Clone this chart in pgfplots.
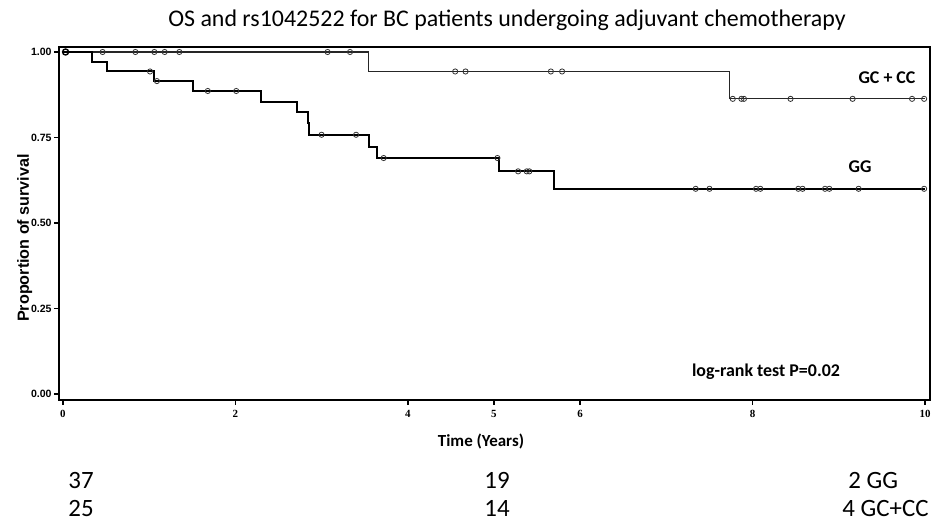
\documentclass[border=0pt]{standalone}
\usepackage{pgfplots}
\pgfplotsset{compat=1.18}
\usepackage{fontspec}
\setmainfont{Carlito}
\newfontfamily\arialf{Liberation Sans}
\newfontfamily\timesf{Liberation Serif}
\begin{document}
\begin{tikzpicture}
\path[use as bounding box] (0,0) rectangle (470bp,260.5bp);
\begin{axis}[
  at={(29.5bp,60.5bp)}, anchor=south west,
  width=435.5bp, height=176.5bp, scale only axis,
  xmin=-0.046, xmax=10.058, ymin=-0.0175, ymax=1.0146,
  xtick={0,2,4,5,6,8,10},
  ytick={0,0.25,0.5,0.75,1},
  yticklabels={0.00,0.25,0.50,0.75,1.00},
  tick align=outside, tick pos=left,
  major tick length=2.5bp,
  axis line style={line width=0.8pt},
  every tick/.style={black, line width=0.8pt},
  /pgf/number format/assume math mode=true,
  xticklabel style={font=\timesf\bfseries\fontsize{5.5}{6}\selectfont, inner sep=1bp, yshift=-1.5bp},
  yticklabel style={font=\arialf\bfseries\fontsize{5.3}{6}\selectfont, inner sep=1bp},
  clip=false,
]
% GC+CC curve
\addplot[const plot, black!85, line width=0.6bp] coordinates {
 (0,1) (3.54,0.943) (7.73,0.863) (10.0,0.863)};
% GG curve
\addplot[const plot, black, line width=1.0bp] coordinates {
 (0,1) (0.34,0.972) (0.51,0.943) (1.06,0.915) (1.51,0.886) (2.30,0.855)
 (2.71,0.824) (2.84,0.791) (2.85,0.758) (3.55,0.723) (3.64,0.690)
 (5.06,0.651) (5.70,0.600) (10.0,0.600)};
% censor marks GC+CC
\addplot[only marks, mark=o, mark size=1.3bp, mark options={black!80, line width=0.4bp, fill=white}] coordinates {
 (0.46,1) (0.84,1) (1.06,1) (1.18,1) (1.35,1) (3.07,1) (3.33,1)
 (4.55,0.943) (4.67,0.943) (5.66,0.943) (5.79,0.943)
 (7.77,0.863) (7.87,0.863) (7.90,0.863) (8.44,0.863) (9.16,0.863) (9.85,0.863) (9.99,0.863)};
\addplot[only marks, mark=o, mark size=1.5bp, mark options={black, line width=0.7bp, fill=white}] coordinates {(0.03,1)};
% censor marks GG
\addplot[only marks, mark=o, mark size=1.3bp, mark options={black!80, line width=0.4bp, fill=white}] coordinates {
 (1.01,0.943) (1.09,0.915) (1.68,0.886) (2.01,0.886) (3.00,0.758) (3.40,0.758) (3.72,0.690)
 (5.04,0.690) (5.28,0.651) (5.38,0.651) (5.41,0.651)
 (7.34,0.600) (7.50,0.600) (8.04,0.600) (8.09,0.600) (8.53,0.600) (8.58,0.600)
 (8.84,0.600) (8.89,0.600) (9.23,0.600) (9.99,0.600)};
\end{axis}
% title
\node at (253.5bp,250.5bp) {\fontsize{12}{14}\selectfont OS and rs1042522 for BC patients undergoing adjuvant chemotherapy};
% y label
\node[rotate=90] at (12.3bp,141.5bp) {\arialf\bfseries\fontsize{8.1}{9}\selectfont Proportion of survival};
% x label
\node at (240.5bp,40bp) {\bfseries\fontsize{8.5}{10}\selectfont Time (Years)};
% in-plot labels
\node at (443.5bp,221.5bp) {\bfseries\fontsize{9}{10}\selectfont GC + CC};
\node at (430bp,177bp) {\bfseries\fontsize{9}{10}\selectfont GG};
\node at (383bp,74.5bp) {\bfseries\fontsize{9}{10}\selectfont log-rank test P=0.02};
% numbers at risk
\node[anchor=base west, inner sep=0pt] at (34bp,16.5bp) {\fontsize{12.5}{14}\selectfont 37};
\node[anchor=base west, inner sep=0pt] at (242bp,16.5bp) {\fontsize{12.5}{14}\selectfont 19};
\node[anchor=base west, inner sep=0pt] at (424bp,16.5bp) {\fontsize{12.5}{14}\selectfont 2 GG};
\node[anchor=base west, inner sep=0pt] at (34bp,2.5bp) {\fontsize{12.5}{14}\selectfont 25};
\node[anchor=base west, inner sep=0pt] at (242bp,2.5bp) {\fontsize{12.5}{14}\selectfont 14};
\node[anchor=base west, inner sep=0pt] at (421bp,2.5bp) {\fontsize{12.5}{14}\selectfont 4 GC+CC};
\end{tikzpicture}
\end{document}
